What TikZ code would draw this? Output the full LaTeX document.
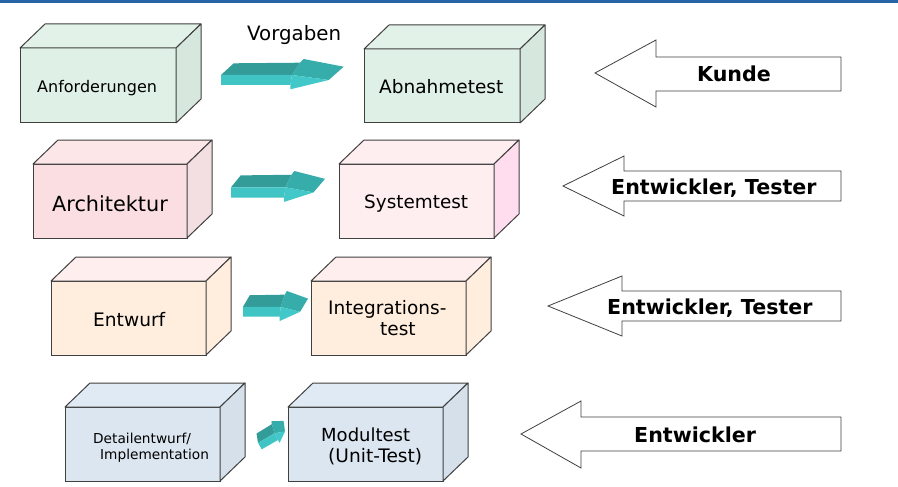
\documentclass[tikz,border=0pt]{standalone}
\usepackage{fontspec}
\setmainfont{DejaVu Sans}
\definecolor{barblue}{RGB}{40,100,165}
\definecolor{edgegray}{RGB}{64,64,64}
\definecolor{gF}{RGB}{223,240,230}
\definecolor{gT}{RGB}{226,242,232}
\definecolor{gS}{RGB}{214,232,222}
\definecolor{aF}{RGB}{250,222,226}
\definecolor{aT}{RGB}{252,230,232}
\definecolor{aS}{RGB}{243,223,225}
\definecolor{sF}{RGB}{255,238,240}
\definecolor{sT}{RGB}{255,238,240}
\definecolor{sS}{RGB}{255,221,238}
\definecolor{eF}{RGB}{255,238,221}
\definecolor{eT}{RGB}{255,238,238}
\definecolor{eS}{RGB}{255,238,221}
\definecolor{bF}{RGB}{220,230,240}
\definecolor{bT}{RGB}{224,234,244}
\definecolor{bS}{RGB}{213,224,235}
\definecolor{tealD}{RGB}{51,156,153}
\definecolor{tealM}{RGB}{54,173,170}
\definecolor{tealL}{RGB}{64,196,196}
\definecolor{tealLL}{RGB}{66,200,200}
\tikzset{
  cubeface/.style={draw=edgegray, line width=1pt, inner sep=0pt, outer sep=0pt, rectangle},
  cubeedge/.style={draw=edgegray, line width=1pt, line join=round},
  lab/.style={inner sep=0pt, anchor=base west, text=black},
  rolearrow/.style={draw=edgegray, line width=0.8pt, fill=white},
  rolelab/.style={inner sep=0pt, anchor=base west, font=\bfseries\fontsize{20.6}{24}\selectfont}
}
\newcommand\cubox[8]{%
  \node[cubeface, fill=#6, minimum width=#4pt, minimum height=#5pt, anchor=north west] (#1) at (#2,#3) {};
  \filldraw[cubeedge, fill=#7] (#1.north west) -- ++(25pt,24pt) -- ++(#4pt,0pt) -- (#1.north east) -- cycle;
  \filldraw[cubeedge, fill=#8] (#1.north east) -- ++(25pt,24pt) -- ++(0pt,-#5pt) -- (#1.south east) -- cycle;
}
\newcommand\tealshape{%
    \fill[tealD] (0,16) -- (12.7,4.3) -- (79,3.7) -- (71,16) -- cycle;
    \fill[tealL] (0,16) -- (71,16) -- (69.3,26) -- (0,26) -- cycle;
    \fill[tealM] (71,16) -- (79,3.7) -- (82.7,0) -- (122.7,7.7) -- (107.7,21) -- cycle;
    \fill[tealLL] (71,16) -- (107.7,21) -- (69.3,30.3) -- (69.3,26) -- cycle;
}
\newcommand\tealarr[4]{%
  \begin{scope}[shift={(#1,#2)}, xscale=#3, yscale=#4]
    \tealshape
  \end{scope}
}
\begin{document}
\begin{tikzpicture}[x=1pt, y=-1pt]
\useasboundingbox (0,0) rectangle (898,487);
\fill[white] (0,0) rectangle (898,487);
\fill[barblue] (0,0) rectangle (898,3.2);

% cuboids
\cubox{fa}{20}{48}{156}{75}{gF}{gT}{gS}
\cubox{fb}{364}{49}{156}{74}{gF}{gT}{gS}
\cubox{fc}{33}{164}{154}{74}{aF}{aT}{aS}
\cubox{fd}{339}{164}{155}{74}{sF}{sT}{sS}
\cubox{fe}{51}{281}{155}{74}{eF}{eT}{eS}
\cubox{ff}{311}{281}{155}{74}{eF}{eT}{eS}
\cubox{fg}{65}{407}{155}{74}{bF}{bT}{bS}
\cubox{fh}{288}{407}{155}{74}{bF}{bT}{bS}

% labels in cuboids
\node[lab, font=\fontsize{16}{19}\selectfont] (ta) at (37,93) {Anforderungen};
\node[lab, font=\fontsize{18.5}{22}\selectfont] (tb) at (379,94) {Abnahmetest};
\node[lab, font=\fontsize{19.8}{23}\selectfont] (tv) at (247,41) {Vorgaben};
\node[lab, font=\fontsize{20.8}{24}\selectfont] (tc) at (52,211) {Architektur};
\node[lab, font=\fontsize{18.4}{22}\selectfont] (td) at (364,208) {Systemtest};
\node[lab, font=\fontsize{18.6}{22}\selectfont] (te) at (93,326) {Entwurf};
\node[lab, font=\fontsize{18.5}{22}\selectfont] (tf1) at (328,314) {Integrations-};
\node[lab, font=\fontsize{18.5}{22}\selectfont] (tf2) at (380,335) {test};
\node[lab, font=\fontsize{13.7}{16}\selectfont] (tg1) at (93,443) {Detailentwurf/};
\node[lab, font=\fontsize{13.7}{16}\selectfont] (tg2) at (100,459) {Implementation};
\node[lab, font=\fontsize{18}{22}\selectfont] (th1) at (321,441) {Modultest};
\node[lab, font=\fontsize{18.6}{22}\selectfont] (th2) at (328,462) {(Unit-Test)};

% teal arrows
\tealarr{221}{59}{1}{1}
\tealarr{231}{171}{0.766}{1.02}
\tealarr{243}{291}{0.53}{0.99}
\begin{scope}[shift={(272,434)}, rotate=30, xscale=0.27, yscale=0.75, shift={(-61.35,-15.15)}]
  \tealshape
\end{scope}

% role arrows
\draw[rolearrow] (595,73) -- (656,40) -- (656,57) -- (841,57) -- (841,91) -- (656,91) -- (656,107) -- cycle;
\draw[rolearrow] (563,186) -- (624,156) -- (624,171) -- (841,171) -- (841,201) -- (624,201) -- (624,216) -- cycle;
\draw[rolearrow] (548,306) -- (622,276) -- (622,291) -- (841,291) -- (841,321) -- (622,321) -- (622,336) -- cycle;
\draw[rolearrow] (521,434) -- (581,401) -- (581,417) -- (841,417) -- (841,451) -- (581,451) -- (581,468) -- cycle;

\node[rolelab] (rk) at (697,82) {Kunde};
\node[rolelab] (r1) at (611,194) {Entwickler, Tester};
\node[rolelab] (r2) at (607,314) {Entwickler, Tester};
\node[rolelab] (r3) at (634,442) {Entwickler};
\end{tikzpicture}
\end{document}
